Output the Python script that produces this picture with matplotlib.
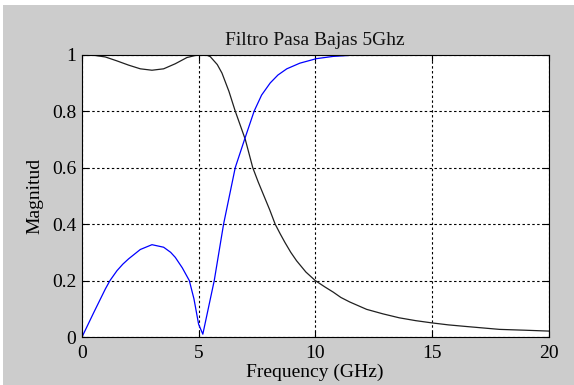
import numpy as np
import matplotlib
matplotlib.use('Agg')
import matplotlib.pyplot as plt
from matplotlib.patches import Rectangle

# Datos (GHz, magnitud)
f_s21 = [0, 0.5, 1, 1.5, 2, 2.5, 3, 3.5, 4, 4.5, 5, 5.3, 5.5, 5.8, 6.0, 6.3,
         6.57, 7.0, 7.32, 7.55, 7.8, 8.05, 8.28, 8.5, 8.7, 8.95, 9.2, 9.6,
         10.0, 10.4, 10.77, 11.1, 11.48, 12.2, 12.9, 13.6, 14.3, 15, 15.7,
         16.5, 17.2, 17.9, 19, 20]
s21 = [1.0, 0.998, 0.992, 0.978, 0.963, 0.95, 0.945, 0.95, 0.968, 0.99, 1.0,
       1.0, 0.993, 0.965, 0.935, 0.87, 0.8, 0.7, 0.6, 0.55, 0.5, 0.45, 0.4,
       0.365, 0.335, 0.3, 0.27, 0.23, 0.2, 0.178, 0.159, 0.14, 0.124, 0.098,
       0.082, 0.068, 0.058, 0.05, 0.043, 0.037, 0.032, 0.027, 0.024, 0.021]

f_s11 = [0, 0.5, 1, 1.2, 1.5, 1.75, 2, 2.5, 3, 3.5, 3.8, 4, 4.3, 4.6, 4.8,
         5.0, 5.18, 5.67, 6.07, 6.57, 6.97, 7.38, 7.7, 8.07, 8.4, 8.78, 9.34,
         10.05, 10.77, 11.77, 13, 20]
s11 = [0, 0.086, 0.17, 0.2, 0.235, 0.258, 0.277, 0.31, 0.327, 0.318, 0.3,
       0.282, 0.245, 0.2, 0.135, 0.045, 0.01, 0.2, 0.4, 0.6, 0.7, 0.8, 0.857,
       0.9, 0.928, 0.95, 0.97, 0.986, 0.994, 0.999, 1.0, 1.0]

xticks = [0, 5, 10, 15, 20]
yticks = [0, 0.2, 0.4, 0.6, 0.8, 1]
ytick_labels = ['0', '0.2', '0.4', '0.6', '0.8', '1']

plt.rcParams['font.family'] = ['Liberation Serif', 'DejaVu Serif']

fig = plt.figure(figsize=(5.74, 3.85), dpi=100, facecolor='white')
# Fondo gris estilo MATLAB (con un borde blanco arriba e izquierda)
fig.patches.append(Rectangle((3 / 574, 0), 1, 1 - 5 / 385, transform=fig.transFigure,
                             facecolor='#cccccc', edgecolor='none', zorder=-10))

ax = fig.add_axes((82 / 574, (385 - 337) / 385, (548.5 - 82) / 574, (337 - 54.7) / 385))
ax.set_facecolor('white')

ax.plot(f_s21, s21, color='#202020', lw=0.9)
ax.plot(f_s11, s11, color='#0000ff', lw=0.9)

ax.set_xlim(0, 20)
ax.set_ylim(0, 1)
ax.set_xticks(xticks)
ax.set_yticks(yticks)
ax.set_yticklabels(ytick_labels)
ax.tick_params(direction='in', length=4, width=0.8, top=True, right=True,
               labelsize=14, colors='black')
ax.tick_params(axis='x', pad=6)
ax.tick_params(axis='y', pad=4)
ax.grid(True, color='black', linestyle=(0, (2.2, 2.2)), linewidth=0.8)
for s in ax.spines.values():
    s.set_linewidth(0.8)
    s.set_color('black')

ax.set_title('Filtro Pasa Bajas 5Ghz', fontsize=14, pad=7, color='#111111')
ax.set_xlabel('Frequency (GHz)', fontsize=14, labelpad=1)
ax.set_ylabel('Magnitud', fontsize=14, labelpad=6)

fig.savefig('out.png', dpi=100, facecolor=fig.get_facecolor())
